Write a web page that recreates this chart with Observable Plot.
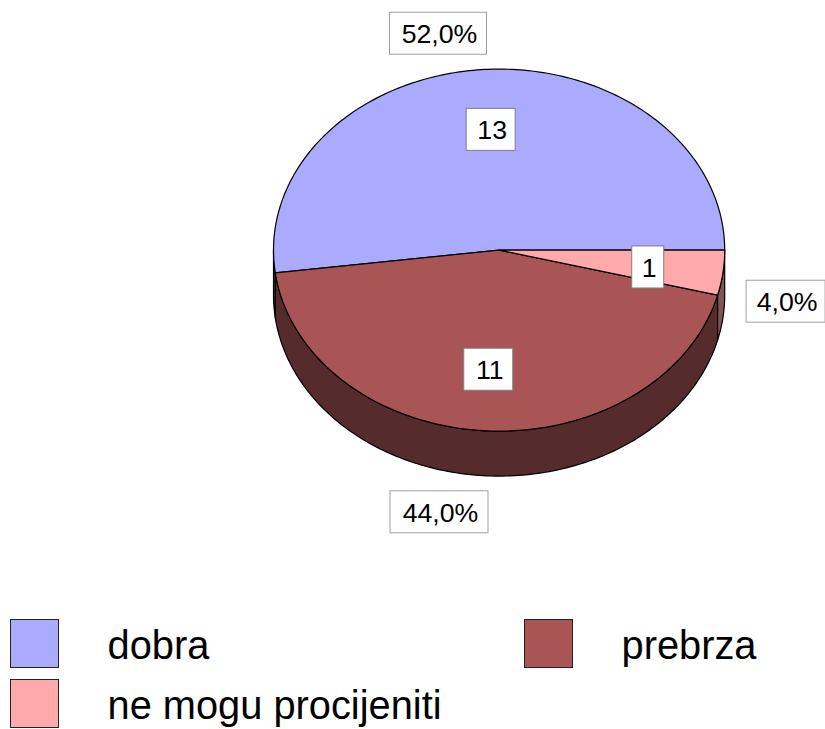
<!DOCTYPE html>
<html>
<head>
<meta charset="utf-8">
<script src="https://cdn.jsdelivr.net/npm/d3@7"></script>
<script src="https://cdn.jsdelivr.net/npm/@observablehq/plot@0.6"></script>
<style>html,body{margin:0;padding:0;background:#fff}svg{display:block}</style>
</head>
<body>
<div id="chart"></div>
<script>
const categories = ["dobra", "prebrza", "ne mogu procijeniti"];
const counts = [13, 11, 1];
const percentLabels = ["52,0%", "44,0%", "4,0%"];
const topColors = ["#aaaaff", "#aa5555", "#ffaaaa"];
const sideColors = ["#555580", "#552b2b", "#805555"];

// Layout of the 3D pie (not data)
const W = 825, H = 729;
const cx = 498.6, cy = 249.6, rx = 225.6, ry = 181, depth = 45;
const font = "Liberation Sans, Arial, sans-serif";
const countBoxW = [49, 49, 32];
const percentBoxW = [97, 98, 79];
const countShift = [[1.4, -1], [-1, 0.4], [1.4, 2.4]];
const percentShift = [[-43.6, 0.4], [-42.6, 45.4], [18.4, 24.4]];
const boxH = 42;

const total = d3.sum(counts);
let cum = 0;
const slices = categories.map((name, i) => {
  const a0 = cum / total * 360;
  cum += counts[i];
  const a1 = cum / total * 360;
  return {name, i, a0, a1, mid: (a0 + a1) / 2};
});
const ex = (a, k = 1) => cx + k * rx * Math.cos(a * Math.PI / 180);
const ey = (a, k = 1) => cy - k * ry * Math.sin(a * Math.PI / 180);
const arc = (a0, a1) => {
  const n = Math.max(2, Math.ceil(Math.abs(a1 - a0)));
  return d3.range(n + 1).map(j => a0 + (a1 - a0) * j / n);
};

const topPts = slices.flatMap(s => [
  {name: s.name, x: cx, y: cy},
  ...arc(s.a0, s.a1).map(a => ({name: s.name, x: ex(a), y: ey(a)}))
]);

const sideMarks = slices.flatMap(s => {
  const a0 = Math.max(s.a0, 180), a1 = Math.max(s.a1, 180);
  if (a1 <= a0) return [];
  const pts = [
    ...arc(a0, a1).map(a => ({x: ex(a), y: ey(a)})),
    ...arc(a1, a0).map(a => ({x: ex(a), y: ey(a) + depth}))
  ];
  return [Plot.line(pts, {x: "x", y: "y", fill: sideColors[s.i], stroke: "black", strokeWidth: 1.2, curve: "linear-closed"})];
});

const countBoxes = slices.map(s => ({
  text: String(counts[s.i]),
  x: ex(s.mid, 0.66) + countShift[s.i][0],
  y: ey(s.mid, 0.66) + countShift[s.i][1],
  w: countBoxW[s.i]
}));
const percentBoxes = slices.map(s => ({
  text: percentLabels[s.i],
  x: ex(s.mid, 1.2) + percentShift[s.i][0],
  y: ey(s.mid, 1.2) + percentShift[s.i][1],
  w: percentBoxW[s.i]
}));

const legend = [
  {name: categories[0], x: 10.5, y: 619.5},
  {name: categories[1], x: 524.5, y: 619.5},
  {name: categories[2], x: 10.5, y: 679.5}
];
const swatch = 48, legendGap = 97;

const boxMark = (data, stroke) => Plot.rect(data, {
  x1: d => d.x - d.w / 2, x2: d => d.x + d.w / 2,
  y1: d => d.y - boxH / 2, y2: d => d.y + boxH / 2,
  fill: "white", stroke, strokeWidth: 1
});
const textMark = (data) => Plot.text(data, {
  x: d => d.x + 1, y: d => d.y + 1, text: "text", fontSize: 26.7, fontFamily: font, fill: "black", textAnchor: "middle", lineAnchor: "middle"
});

const chart = Plot.plot({
  width: W, height: H,
  margin: 0,
  style: {background: "white"},
  x: {domain: [0, W], range: [0, W], axis: null},
  y: {domain: [0, H], range: [0, H], axis: null},
  color: {domain: categories, range: topColors},
  marks: [
    ...sideMarks,
    Plot.line(topPts, {x: "x", y: "y", z: "name", fill: "name", stroke: "black", strokeWidth: 1.2, curve: "linear-closed"}),
    boxMark(countBoxes, "#808080"),
    textMark(countBoxes),
    boxMark(percentBoxes, "#a0a0a0"),
    textMark(percentBoxes),
    Plot.rect(legend, {
      x1: "x", x2: d => d.x + swatch,
      y1: "y", y2: d => d.y + swatch,
      fill: "name", stroke: "#222", strokeWidth: 1
    }),
    Plot.text(legend, {
      x: d => d.x + legendGap - 0.5, y: d => d.y + swatch / 2 + 2.5, text: "name",
      fontSize: 39.8, fontFamily: font, fill: "black", textAnchor: "start", lineAnchor: "middle"
    })
  ]
});
document.getElementById("chart").appendChild(chart);
</script>
</body>
</html>
